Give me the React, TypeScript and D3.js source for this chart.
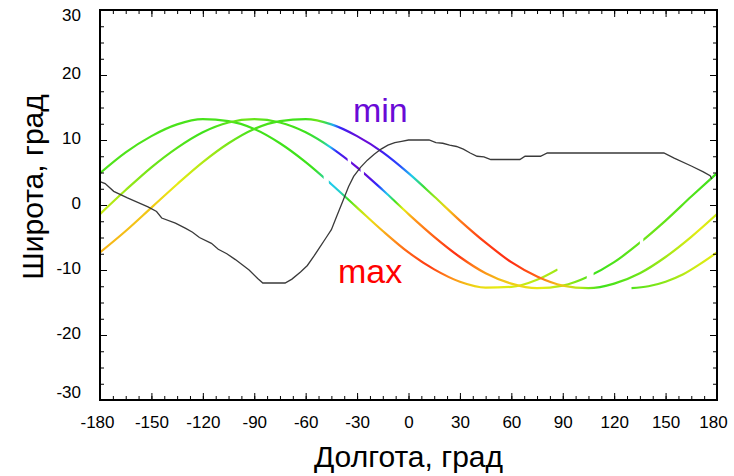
import React, { useRef, useEffect } from 'react';
import * as d3 from 'd3';

// tick labels
const lonTicks = [-180, -150, -120, -90, -60, -30, 0, 30, 60, 90, 120, 150, 180];
const latTicks = [-30, -20, -10, 0, 10, 20, 30];

// ground tracks: [longitude, latitude]
const trackA = [
  [-180, 4.9], [-165, 8.1], [-150, 10.6], [-135, 12.4], [-120, 13.2], [-105, 12.9],
  [-90, 11.7], [-75, 9.5], [-60, 6.6], [-45, 3.2], [-30, -0.4], [-15, -4.0],
  [0, -7.3], [15, -9.9], [30, -11.8], [45, -12.7], [60, -12.6], [75, -11.5], [87, -9.9],
];
const trackB = [
  [-180, -1.4], [-165, 2.3], [-150, 5.8], [-135, 8.8], [-120, 11.2], [-105, 12.7],
  [-90, 13.2], [-75, 12.7], [-60, 11.2], [-45, 8.8], [-30, 5.8], [-15, 2.3],
  [0, -1.4], [15, -4.9], [30, -8.0], [45, -10.5], [60, -12.1], [75, -12.8],
  [90, -12.4], [105, -11.0], [120, -8.8], [135, -5.8], [150, -2.4], [165, 1.3], [180, 4.9],
];
const trackC = [
  [-180, -7.3], [-165, -4.0], [-150, -0.4], [-135, 3.2], [-120, 6.6], [-105, 9.5],
  [-90, 11.7], [-75, 12.9], [-60, 13.2], [-45, 12.4], [-30, 10.6], [-15, 8.1],
  [0, 4.9], [15, 1.3], [30, -2.4], [45, -5.8], [60, -8.8], [75, -11.0],
  [90, -12.4], [105, -12.8], [120, -12.1], [135, -10.5], [150, -8.0], [165, -4.9], [180, -1.4],
];
const trackD = [
  [130, -12.8], [140, -12.5], [150, -11.8], [160, -10.7], [170, -9.1], [180, -7.3],
];

// colour parameter along each track: [longitude, 0 = min .. 1 = max]
const colorA = [
  [-180, 0.52], [-55, 0.5], [-49, 0.4], [-45, 0.33], [-40, 0.36], [-35, 0.5], [-29, 0.62],
  [-22, 0.7], [-12, 0.82], [0, 0.92], [12, 0.98], [25, 0.85], [38, 0.72], [52, 0.67], [87, 0.6],
];
const colorB = [
  [-180, 0.64], [-150, 0.55], [-120, 0.5], [-95, 0.55], [-80, 0.52], [-60, 0.5], [-50, 0.45],
  [-46, 0.33], [-42, 0.15], [-35, 0.03], [-28, 0], [-22, 0.05], [-18, 0.17], [-12.5, 0.33],
  [-8, 0.5], [-3, 0.67], [3, 0.83], [16, 0.93], [28, 1], [38, 0.88], [55, 0.75], [78, 0.67],
  [95, 0.58], [110, 0.5], [140, 0.55], [165, 0.52], [180, 0.5],
];
const colorC = [
  [-180, 0.78], [-150, 0.74], [-135, 0.67], [-115, 0.6], [-95, 0.52], [-60, 0.5], [-53, 0.55],
  [-48, 0.45], [-44, 0.3], [-40, 0.15], [-34, 0.05], [-25, 0], [-18, 0.05], [-12, 0.15],
  [-5, 0.2], [2, 0.33], [9, 0.48], [16, 0.6], [22, 0.72], [30, 0.88], [42, 0.97], [60, 1],
  [75, 0.92], [88, 0.75], [100, 0.62], [112, 0.5], [135, 0.55], [155, 0.62], [170, 0.67], [180, 0.64],
];
const colorD = [[130, 0.52], [150, 0.58], [165, 0.64], [180, 0.67]];

// gaps in the tracks: [from longitude, to longitude]
const gapsA = [[-49.5, -46.5]];
const gapsB = [[-35.5, -33.5], [-28, -26], [104, 108], [135, 137]];
const gapsC: number[][] = [];
const gapsD: number[][] = [];

// black curve: [longitude, latitude]
const blackLine = [
  [-180, 3.6], [-177, 3.3], [-172, 2.1], [-164, 1.1], [-157, 0.3], [-152, -0.3], [-147, -1.0],
  [-144, -2.0], [-136, -2.8], [-130, -3.6], [-126, -4.2], [-122, -5.0], [-115, -5.9],
  [-111, -6.8], [-106, -7.5], [-101, -8.4], [-97, -9.2], [-93, -10.0], [-88, -11.3],
  [-85, -12.0], [-72, -12.0], [-68, -11.4], [-63, -10.3], [-59, -9.3], [-55, -7.8],
  [-52, -6.6], [-48, -5.0], [-45, -3.8], [-42, -1.8], [-38, 0.8], [-35, 2.8], [-32, 4.4],
  [-28, 5.8], [-24, 6.9], [-20, 7.8], [-16, 8.6], [-12, 9.2], [-8, 9.6], [-4, 9.8],
  [0, 10.0], [12, 10.0], [16, 9.6], [20, 9.5], [24, 9.2], [28, 9.0], [32, 8.6], [36, 8.0],
  [40, 7.5], [44, 7.4], [48, 7.0], [65, 7.0], [68, 7.5], [77, 7.5], [81, 8.0], [149, 8.0],
  [155, 7.2], [165, 6.0], [172, 5.1], [176, 4.5], [177, 4.0],
];

const colorScale = d3.scaleLinear<string>()
  .domain([0, 0.17, 0.33, 0.5, 0.67, 0.83, 1])
  .range(['#6a0ad6', '#2b2bff', '#1ecbf0', '#3de21b', '#e6ec12', '#ff9b1a', '#ff2d12'])
  .interpolate(d3.interpolateRgb);

const FONT = '"Liberation Sans", Arial, sans-serif';

export default function App() {
  const ref = useRef<SVGSVGElement>(null);

  useEffect(() => {
    const svg = d3.select(ref.current);
    svg.selectAll('*').remove();

    const width = 734;
    const height = 476;
    const margin = { top: 10, right: 17, bottom: 76, left: 100 };

    const x = d3.scaleLinear().domain([-180, 180]).range([margin.left, width - margin.right]);
    const y = d3.scaleLinear().domain([-30, 30]).range([height - margin.bottom, margin.top]);

    svg.append('rect').attr('width', width).attr('height', height).attr('fill', '#fff');

    const defs = svg.append('defs');

    const tracks = [
      { id: 'A', pts: trackA, col: colorA, gaps: gapsA },
      { id: 'B', pts: trackB, col: colorB, gaps: gapsB },
      { id: 'C', pts: trackC, col: colorC, gaps: gapsC },
      { id: 'D', pts: trackD, col: colorD, gaps: gapsD },
    ];

    const line = d3.line<number[]>()
      .x(d => x(d[0]))
      .y(d => y(d[1]))
      .curve(d3.curveMonotoneX);

    tracks.forEach(t => {
      // colour along the track
      const grad = defs.append('linearGradient')
        .attr('id', 'grad' + t.id)
        .attr('gradientUnits', 'userSpaceOnUse')
        .attr('x1', x(-180)).attr('x2', x(180))
        .attr('y1', 0).attr('y2', 0);
      grad.selectAll('stop')
        .data(t.col)
        .enter().append('stop')
        .attr('offset', d => (d[0] + 180) / 360)
        .attr('stop-color', d => colorScale(d[1]));

      // visible pieces between gaps
      const start = t.pts[0][0];
      const end = t.pts[t.pts.length - 1][0];
      const pieces: number[][] = [];
      let from = start;
      t.gaps.forEach(g => { pieces.push([from, g[0]]); from = g[1]; });
      pieces.push([from, end]);
      const clip = defs.append('clipPath').attr('id', 'clip' + t.id);
      clip.selectAll('rect')
        .data(pieces)
        .enter().append('rect')
        .attr('x', d => x(d[0]))
        .attr('width', d => x(d[1]) - x(d[0]))
        .attr('y', 0)
        .attr('height', height);

      svg.append('path')
        .datum(t.pts)
        .attr('d', line)
        .attr('fill', 'none')
        .attr('stroke', `url(#grad${t.id})`)
        .attr('stroke-width', 2.2)
        .attr('clip-path', `url(#clip${t.id})`);
    });

    svg.append('path')
      .datum(blackLine)
      .attr('d', d3.line<number[]>().x(d => x(d[0])).y(d => y(d[1])))
      .attr('fill', 'none')
      .attr('stroke', '#3a3a3a')
      .attr('stroke-width', 1.3);

    // axes, ticks inward
    const minorLon = d3.range(-180, 180.1, 7.5);
    const minorLat = d3.range(-30, 30.1, 2.5);
    const bottom = height - margin.bottom;
    const right = width - margin.right;

    const addAxis = (axis: any, tx: number, ty: number) => {
      const g = svg.append('g').attr('transform', `translate(${tx},${ty})`).call(axis);
      g.select('.domain').remove();
      g.selectAll('line').attr('stroke', '#000').attr('stroke-width', 1);
      g.selectAll('text').attr('font-family', FONT).attr('font-size', 17).attr('fill', '#000');
      return g;
    };

    addAxis(d3.axisBottom(x).tickValues(minorLon).tickSize(-4).tickFormat(() => ''), 0, bottom);
    const xAxis = addAxis(d3.axisBottom(x).tickValues(lonTicks).tickSize(-7).tickPadding(16).tickFormat(d => String(d)), 0, bottom);
    addAxis(d3.axisTop(x).tickValues(minorLon).tickSize(-4).tickFormat(() => ''), 0, margin.top);
    addAxis(d3.axisTop(x).tickValues(lonTicks).tickSize(-7).tickFormat(() => ''), 0, margin.top);
    addAxis(d3.axisLeft(y).tickValues(minorLat).tickSize(-4).tickFormat(() => ''), margin.left, 0);
    const yAxis = addAxis(d3.axisLeft(y).tickValues(latTicks).tickSize(-7).tickPadding(19).tickFormat(d => String(d)), margin.left, 0);
    addAxis(d3.axisRight(y).tickValues(minorLat).tickSize(-4).tickFormat(() => ''), right, 0);
    addAxis(d3.axisRight(y).tickValues(latTicks).tickSize(-7).tickFormat(() => ''), right, 0);

    // end labels sit a little inside the frame
    xAxis.selectAll<SVGTextElement, number>('text').attr('dx', d => (d === -180 ? -3 : d === 180 ? -4 : 0));
    yAxis.selectAll<SVGTextElement, number>('text').attr('dy', d => (d === 30 ? '0.62em' : d === -30 ? '-0.15em' : '0.22em'));

    // frame
    svg.append('rect')
      .attr('x', margin.left).attr('y', margin.top)
      .attr('width', right - margin.left).attr('height', bottom - margin.top)
      .attr('fill', 'none').attr('stroke', '#000').attr('stroke-width', 2);

    // min / max annotations
    svg.append('text')
      .attr('x', x(-32.4)).attr('y', y(12.8))
      .attr('font-family', FONT).attr('font-size', 34).attr('fill', '#6a0ad6')
      .text('min');
    svg.append('text')
      .attr('x', x(-41.1)).attr('y', y(-12))
      .attr('font-family', FONT).attr('font-size', 34).attr('fill', '#ff0000')
      .text('max');

    // axis titles
    svg.append('text')
      .attr('x', (margin.left + right) / 2).attr('y', 467)
      .attr('text-anchor', 'middle')
      .attr('font-family', FONT).attr('font-size', 30).attr('fill', '#000')
      .text('Долгота, град');
    svg.append('text')
      .attr('transform', 'translate(43,187) rotate(-90)')
      .attr('text-anchor', 'middle')
      .attr('font-family', FONT).attr('font-size', 30).attr('fill', '#000')
      .text('Широта, град');
  }, []);

  return (
    <svg ref={ref} width={734} height={476}
      style={{ position: 'absolute', left: 0, top: 0, display: 'block' }} />
  );
}
